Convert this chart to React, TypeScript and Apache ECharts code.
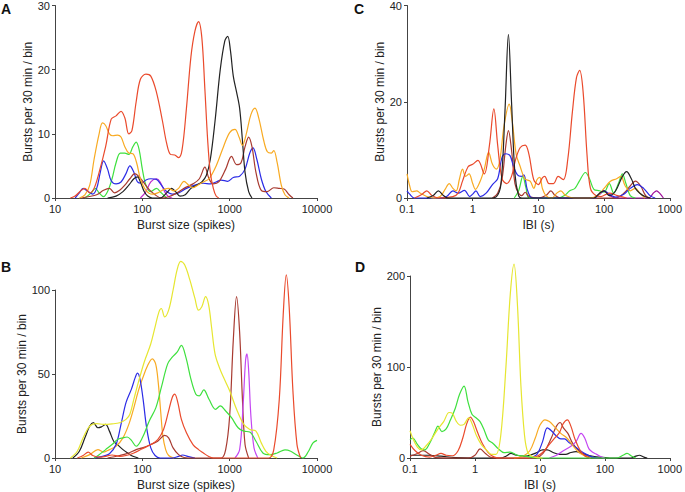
import React, { useEffect, useRef } from "react";
import * as echarts from "echarts";

type P = [number, number][];

// ---------- tick labels ----------
const X_TICKS_SIZE = ["10", "100", "1000", "10000"];
const X_TICKS_IBI = ["0.1", "1", "10", "100", "1000"];
const Y_TICKS_A = [0, 10, 20, 30];
const Y_TICKS_B = [0, 50, 100];
const Y_TICKS_C = [0, 20, 40];
const Y_TICKS_D = [0, 100, 200];

// ---------- panel A: burst size (x = spikes, y = bursts/bin) ----------
const A_RED: P = [[15,0],[17,0.3],[20,1.2],[22,1.5],[25,0.8],[28,1.5],[32,4],[38,8],[44,12.3],[50,12.8],[57,13.5],[63,12.5],[70,10],[76,10.5],[85,15],[95,18.5],[110,19.3],[125,19],[145,16.5],[170,12],[190,8.5],[210,6.8],[235,6.7],[260,6.3],[285,7.5],[320,14],[360,22],[400,26],[440,27.5],[480,25],[520,17],[560,9],[600,4],[650,1.5],[700,0.3],[750,0]];
const A_ORANGE: P = [[19,0],[22,0.5],[25,2],[28,6],[32,10],[35,11.7],[38,11.3],[42,10],[46,9.7],[52,9.8],[57,9.5],[63,8],[70,7],[78,6.9],[86,5.5],[95,3],[110,1.2],[130,0.6],[150,0.8],[175,1.3],[200,1.5],[230,1.1],[260,1.5],[300,2.6],[340,2],[380,1.6],[430,2],[500,2.5],[580,3],[700,5],[850,8],[1000,10.2],[1150,10.7],[1280,9.5],[1400,8.2],[1550,10],[1750,13],[1950,14],[2150,12.5],[2450,9],[2700,7.2],[3000,7],[3200,7.4],[3500,5.5],[3900,2],[4300,0.5],[4800,0]];
const A_BLACK: P = [[40,0],[50,0.3],[60,1],[70,2],[80,3],[88,3.3],[95,2.5],[105,1],[115,0.3],[130,0],[160,0],[190,0.8],[215,1.5],[240,1],[270,0.3],[310,0.5],[360,1.5],[420,2],[480,2.5],[540,3.5],[600,6],[680,12],[780,20],[880,24.5],[950,25.2],[1020,23],[1100,19],[1200,16.5],[1300,14],[1400,9],[1500,4],[1650,1],[1800,0]];
const A_BLUE: P = [[17,0],[19,0.8],[21,1.5],[24,1],[27,0.6],[30,1.5],[33,4],[36,5.8],[40,4.5],[44,2.7],[50,2.2],[57,2.5],[65,3.8],[72,5],[80,4],[88,2.5],[98,2.3],[110,2.8],[125,3],[145,2.9],[165,2],[190,1],[220,0.6],[260,0.8],[320,1.5],[400,2],[500,2.3],[600,2.2],[700,2.5],[800,2.8],[950,2.6],[1100,3.2],[1300,3.4],[1500,4.5],[1700,7],[1850,7.8],[2050,6],[2300,3],[2600,1],[3000,0]];
const A_GREEN: P = [[22,0],[26,0.8],[29,1.5],[32,0.8],[36,0.2],[40,1],[45,3],[50,5.5],[56,7],[63,7],[70,6.8],[78,8],[85,8.7],[92,7.5],[100,4.5],[110,2],[125,1],[145,1.5],[165,0.8],[190,0]];
const A_MAGENTA: P = [[95,0],[110,1],[125,2.5],[145,3],[160,2.5],[180,1],[200,0.2],[220,0]];
const A_BROWN: P = [[20,0],[24,0.2],[30,0.5],[36,1.2],[42,1.5],[48,0.8],[55,1.2],[63,2],[72,3],[82,3.8],[92,3.3],[105,2.3],[120,1.3],[140,0.5],[165,0],[200,0.2],[250,0.8],[300,1.5],[380,2.2],[450,3],[520,4.8],[580,3],[650,2.2],[750,2.5],[900,4.5],[1050,6.5],[1200,5.2],[1350,5.5],[1500,8],[1650,9.5],[1800,8],[2000,4],[2300,1.2],[2700,1],[3200,1.6],[3700,1.5],[4200,1.4],[4800,0.5],[5300,0]];

// ---------- panel B: burst size ----------
const B_YELLOW: P = [[15,0],[18,4],[21,12],[25,19],[30,20.5],[36,20],[45,20.3],[55,21],[65,23],[72,26],[80,35],[90,45],[105,57],[125,68],[140,78],[155,87],[165,89],[180,84],[200,88],[225,100],[250,112],[275,117],[305,115],[350,106],[400,95],[440,88],[480,90],[530,96],[575,91],[620,78],[680,62],[760,54],[850,48],[1000,40],[1200,29],[1450,20],[1700,17],[2000,16],[2300,9],[2600,4],[3000,1.5],[3500,0]];
const B_GREEN: P = [[28,0],[32,2],[38,5],[45,8],[52,11],[60,12],[67,12.5],[75,10.5],[85,7],[100,12],[120,22],[143,30],[165,42],[195,56],[220,60],[250,63],[280,67],[315,60],[360,47],[410,38],[450,37],[505,40.5],[580,35],[690,29],[780,31],[900,28],[1050,24],[1250,18],[1450,16],[1700,15.5],[2000,10],[2400,3],[2900,2],[3500,3],[4300,4.8],[5000,4],[6000,1.5],[6900,0],[8000,4],[9000,9],[10000,10.5]];
const B_ORANGE: P = [[20,0],[25,2],[31,5],[36,3.5],[42,5],[50,7],[60,12],[70,20],[80,30],[90,40],[100,47],[115,55],[130,59],[142,56],[152,45],[162,28],[172,13],[185,5],[200,1.5],[230,0]];
const B_BLUE: P = [[28,0],[35,1],[42,2.5],[50,8],[57,20],[65,33],[75,41],[83,48],[88,50.5],[94,47],[102,35],[112,18],[125,6],[140,1.5],[160,0],[220,0],[260,1],[290,1.8],[330,1],[400,0]];
const B_BLACK: P = [[16,0],[19,4],[22,12],[25,19],[27.5,21],[31,18],[34,18.5],[38,20],[42,16],[47,10],[53,7.5],[60,5],[68,3],[78,1],[90,0]];
const B_BROWN: P = [[40,0],[55,1.5],[70,3],[85,5],[100,6],[125,8],[150,10],[180,13.5],[200,12],[225,6],[260,2],[300,0.3],[400,0],[800,0],[900,5],[1000,25],[1100,70],[1200,96],[1300,75],[1400,35],[1500,8],[1650,0]];
const B_RED: P = [[18,0],[21,1.5],[24,3.5],[27,1.5],[32,0.5],[38,1],[45,1.8],[55,1],[65,1.5],[80,3],[100,5.5],[125,8],[150,11],[175,17],[200,28],[220,36],[235,38],[255,33],[280,23],[320,15],[380,8],[440,5],[500,3],[570,1],[650,0],[2800,0],[3200,5],[3700,35],[4100,85],[4450,109],[4800,90],[5300,40],[5900,8],[6500,0]];
const B_VIOLET: P = [[1150,0],[1300,5],[1420,30],[1520,58],[1580,62],[1650,52],[1750,25],[1900,6],[2100,0]];

// ---------- panel C: IBI (s) ----------
const C_BLACK: P = [[0.2,0],[0.25,0.5],[0.3,1.5],[0.36,0.5],[0.42,0],[1.8,0],[2.3,0.3],[2.7,3],[3.1,18],[3.5,34],[3.9,20],[4.4,5],[5,0.5],[5.6,0],[70,0],[85,1],[100,1.5],[120,0.5],[150,1.5],[190,4.5],[220,5.5],[260,4],[300,2],[350,1],[420,0.3],[500,0]];
const C_RED: P = [[0.13,0],[0.17,0.8],[0.2,1.5],[0.24,0.5],[0.3,0],[0.5,0.3],[0.6,1],[0.7,3.5],[0.85,6.5],[1.0,7],[1.2,7.8],[1.5,5],[1.8,11],[2.1,18.5],[2.4,11],[2.8,4],[3.3,3],[3.9,4.5],[4.5,8],[5.3,10.5],[6.3,11],[7.2,9],[8.5,3.8],[10,2.8],[11.5,4.2],[12.5,4.5],[14.5,3],[17,3],[20,4.5],[24,3.8],[28,8],[33,18],[38,25],[42.5,26.5],[48,22],[55,9],[62,2],[75,0.5],[90,0.3],[120,1],[160,0.5],[220,0]];
const C_ORANGE: P = [[0.1,5],[0.11,2.5],[0.12,1.3],[0.14,1.5],[0.16,1],[0.2,0.3],[0.25,0],[0.32,0.3],[0.38,1.8],[0.44,3],[0.5,2],[0.56,1.5],[0.63,4],[0.7,6],[0.78,4.5],[0.88,5],[1.0,3],[1.1,1.8],[1.3,3.5],[1.5,6],[1.75,9.5],[2.0,7],[2.3,6],[2.6,8],[3.0,15],[3.6,19.5],[4.0,16],[4.6,9],[5.3,6.5],[6.2,4],[7.5,3.5],[8.5,2],[9.5,3.8],[10.5,4.3],[11.5,2],[13,0.5],[16,0],[19,1],[22,1.5],[26,0.5],[35,0],[60,0],[80,0.5],[100,2],[125,3.5],[155,4],[180,4.5],[210,2.5],[250,1.5],[300,2],[350,1],[420,0]];
const C_BLUE: P = [[0.1,1.5],[0.11,0.8],[0.13,0],[0.3,0],[0.4,0.3],[0.5,1.5],[0.6,1],[0.75,1.6],[0.9,0.3],[1.0,0.8],[1.12,1.5],[1.3,0.3],[1.6,1],[2.0,2.8],[2.4,4],[2.8,8.5],[3.2,9.2],[3.7,8.8],[4.2,6.5],[4.8,4.8],[5.5,4.5],[6.0,4.8],[6.7,2],[7.5,0.3],[8.5,0],[70,0],[85,0.8],[100,1.5],[120,0.8],[150,0.2],[200,0.8],[250,2],[320,2.8],[400,2],[500,0.5],[600,0]];
const C_GREEN: P = [[4.3,0],[5.0,1.5],[5.8,4.5],[6.5,2],[7.3,0],[20,0],[25,0.5],[30,1.5],[36,2],[42,3.5],[52,5.3],[60,4],[70,1.8],[85,1.5],[100,1.2],[120,3],[140,1],[165,3],[190,5],[215,3],[250,0.5],[300,0]];
const C_BROWN: P = [[2.0,0],[2.4,1],[2.8,4],[3.2,11],[3.5,14],[3.9,10],[4.4,3],[5,1],[5.6,0.5],[6.3,1.2],[7.2,0.3],[10,0],[13,0.5],[15.5,1.5],[18,0.5],[22,0],[150,0],[200,1],[250,2.5],[300,3.5],[360,2.5],[430,0.5],[500,0]];
const C_PURPLE: P = [[70,0],[85,0.8],[100,1.5],[120,0.5],[150,0],[480,0],[560,1],[630,1.5],[700,1],[800,0]];

// ---------- panel D: IBI (s) ----------
const D_YELLOW: P = [[0.1,30],[0.11,22],[0.13,12],[0.15,9],[0.18,14],[0.22,22],[0.27,32],[0.33,40],[0.4,50],[0.45,49],[0.52,40],[0.6,36],[0.68,37],[0.8,44],[0.9,38],[1.05,25],[1.25,15],[1.5,9],[1.8,4],[2.1,4],[2.5,25],[3.0,100],[3.5,180],[4.0,213],[4.5,170],[5.1,80],[5.8,25],[6.5,6],[7.5,2],[9,0.5],[11,0]];
const D_GREEN: P = [[0.1,20],[0.11,22],[0.13,15],[0.15,10],[0.17,9],[0.2,16],[0.24,28],[0.27,35],[0.31,29],[0.36,32],[0.42,42],[0.5,55],[0.58,70],[0.68,79],[0.78,62],[0.9,48],[1.05,44],[1.2,40],[1.4,30],[1.6,20],[1.9,16],[2.3,10],[2.8,6],[3.5,6.5],[4.5,3],[6,2],[8,0.5],[10,0],[150,0],[190,3],[220,5],[260,2],[300,0]];
const D_RED: P = [[0.1,15],[0.12,8],[0.15,3],[0.2,1],[0.25,3],[0.3,5],[0.36,3],[0.45,2.5],[0.55,8],[0.65,22],[0.75,38],[0.85,45],[0.95,40],[1.1,28],[1.3,16],[1.6,6],[2,1],[2.5,0],[7,0],[9,2],[11,6],[14,15],[17,22],[20,28],[23,38],[26.5,42],[30,35],[35,20],[42,8],[50,2],[60,0]];
const D_BROWN: P = [[0.1,2],[0.13,5],[0.16,8],[0.2,4],[0.25,0.5],[0.8,0],[1.0,3],[1.2,10],[1.45,5],[1.8,0.5],[2.5,0],[8,0],[10,2],[12,8],[15,22],[18,35],[20.5,39],[23,33],[27,27],[32,16],[40,8],[50,3],[65,0.5],[80,0]];
const D_ORANGE: P = [[4,0],[5.5,2],[7,8],[8.5,22],[10,36],[12,42],[14,40],[17,34],[21,27],[26,22],[32,14],[40,6],[50,2],[60,0]];
const D_BLUE: P = [[7,0],[9,4],[11,18],[13,33],[15,30],[18,24],[21,21],[24,21],[28,17],[34,13],[42,8],[52,4],[65,1],[80,0]];
const D_VIOLET: P = [[14,0],[18,3],[23,8],[30,13],[36,18],[43,27],[49,22],[57,10],[66,6],[75,4],[90,1],[100,0]];
const D_BLACK: P = [[0.1,3],[0.2,3],[0.3,2],[0.5,0.5],[1,0],[2.5,0],[3,2],[3.6,5],[4.2,3.5],[5.5,2],[7,3],[9,6],[11,9],[13,9],[16,6],[20,4],[25,4],[30,6],[36,7],[45,5],[60,2.5],[80,1],[120,0],[250,0],[300,2],[340,3],[400,1],[450,0]];

const COLORS = {
  red: "#ea4a2c",
  orange: "#f8aa22",
  black: "#222222",
  blue: "#2b2be6",
  green: "#3ee03e",
  magenta: "#c030cc",
  brown: "#a83a30",
  yellow: "#e6e630",
  violet: "#c446f2",
  purple: "#a0109c",
};

const FONT = "Liberation Sans, Arial, Helvetica, sans-serif";

export default function App() {
  const ref = useRef<HTMLDivElement>(null);
  useEffect(() => {
    document.body.style.margin = "0";
    const chart = echarts.init(ref.current!, null, { renderer: "svg" });

    const grids = [
      { left: 55, top: 5, width: 262, height: 193 },
      { left: 55, top: 290, width: 262, height: 168 },
      { left: 407, top: 5, width: 265, height: 193 },
      { left: 410, top: 276, width: 262, height: 182 },
    ];

    const axisLine = { show: true, lineStyle: { color: "#444", width: 1 } };
    const axisTick = { show: true, length: 3, lineStyle: { color: "#444" } };

    const logX = (labels: string[], min: number, max: number, name: string, idx: number) => ({
      type: "log" as const,
      gridIndex: idx,
      logBase: 10,
      min,
      max,
      name,
      nameLocation: "middle" as const,
      nameGap: 21,
      nameTextStyle: { fontSize: 12, color: "#222", fontFamily: FONT },
      axisLine,
      axisTick,
      splitLine: { show: false },
      axisLabel: {
        fontSize: 11,
        color: "#222",
        fontFamily: FONT,
        margin: 5,
        formatter: (v: number) => {
          const k = Math.round(Math.log10(v) - Math.log10(min));
          return labels[k] ?? "";
        },
      },
    });

    const valY = (ticks: number[], idx: number, gap: number) => ({
      type: "value" as const,
      gridIndex: idx,
      min: ticks[0],
      max: ticks[ticks.length - 1],
      interval: ticks[1] - ticks[0],
      name: "Bursts per 30 min / bin",
      nameLocation: "middle" as const,
      nameGap: gap,
      nameTextStyle: { fontSize: 12, color: "#222", fontFamily: FONT },
      axisLine,
      axisTick,
      splitLine: { show: false },
      axisLabel: { fontSize: 11, color: "#222", fontFamily: FONT, margin: 5 },
    });

    const panels: { idx: number; lines: [P, string][] }[] = [
      { idx: 0, lines: [[A_GREEN, COLORS.green], [A_MAGENTA, COLORS.magenta], [A_BLUE, COLORS.blue], [A_BROWN, COLORS.brown], [A_BLACK, COLORS.black], [A_ORANGE, COLORS.orange], [A_RED, COLORS.red]] },
      { idx: 1, lines: [[B_BLACK, COLORS.black], [B_ORANGE, COLORS.orange], [B_BLUE, COLORS.blue], [B_BROWN, COLORS.brown], [B_VIOLET, COLORS.violet], [B_GREEN, COLORS.green], [B_YELLOW, COLORS.yellow], [B_RED, COLORS.red]] },
      { idx: 2, lines: [[C_PURPLE, COLORS.purple], [C_GREEN, COLORS.green], [C_BROWN, COLORS.brown], [C_BLUE, COLORS.blue], [C_ORANGE, COLORS.orange], [C_RED, COLORS.red], [C_BLACK, COLORS.black]] },
      { idx: 3, lines: [[D_BLACK, COLORS.black], [D_BROWN, COLORS.brown], [D_BLUE, COLORS.blue], [D_VIOLET, COLORS.violet], [D_ORANGE, COLORS.orange], [D_RED, COLORS.red], [D_GREEN, COLORS.green], [D_YELLOW, COLORS.yellow]] },
    ];

    const series: any[] = [];
    panels.forEach((p) => {
      p.lines.forEach(([data, color]) => {
        series.push({
          type: "line",
          xAxisIndex: p.idx,
          yAxisIndex: p.idx,
          data,
          smooth: 0.35,
          showSymbol: false,
          symbol: "none",
          clip: false,
          lineStyle: { color, width: 1.2 },
          emphasis: { disabled: true },
        });
      });
    });

    const letter = (t: string, left: number, top: number) => ({
      type: "text",
      left,
      top,
      style: { text: t, font: `bold 14px ${FONT}`, fill: "#111" },
    });

    chart.setOption({
      animation: false,
      backgroundColor: "#ffffff",
      grid: grids,
      xAxis: [
        logX(X_TICKS_SIZE, 10, 10000, "Burst size (spikes)", 0),
        logX(X_TICKS_SIZE, 10, 10000, "Burst size (spikes)", 1),
        logX(X_TICKS_IBI, 0.1, 1000, "IBI (s)", 2),
        logX(X_TICKS_IBI, 0.1, 1000, "IBI (s)", 3),
      ],
      yAxis: [
        valY(Y_TICKS_A, 0, 20),
        valY(Y_TICKS_B, 1, 21),
        valY(Y_TICKS_C, 2, 19),
        valY(Y_TICKS_D, 3, 20),
      ],
      series,
      graphic: [letter("A", 1, 2), letter("B", 1, 260), letter("C", 354, 2), letter("D", 355, 260)],
    });

    return () => chart.dispose();
  }, []);
  return <div ref={ref} style={{ width: 685, height: 492 }} />;
}
